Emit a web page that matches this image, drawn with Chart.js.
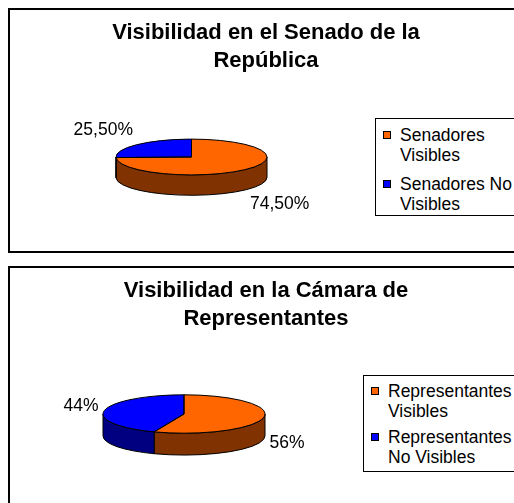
<!DOCTYPE html>
<html>
<head>
<meta charset="utf-8">
<script src="https://cdn.jsdelivr.net/npm/chart.js@4.4.0/dist/chart.umd.min.js"></script>
<style>
  body { margin: 0; background: #fff; overflow: hidden; font-family: "Liberation Sans", Arial, sans-serif; color: #000; }
  .panel { position: absolute; left: 8px; width: 530px; border: 2px solid #000; box-sizing: border-box; }
  #p1 { top: 8px; height: 245px; }
  #p2 { top: 266px; height: 260px; }
  .panel canvas { position: absolute; left: 0; top: 0; }
  .title { position: absolute; left: 0; top: 8px; width: 512px; text-align: center; font-weight: bold; font-size: 22px; line-height: 28px; }
  .legend { position: absolute; width: 200px; border: 1px solid #000; box-sizing: border-box; background: #fff; font-size: 17.5px; line-height: 20px; }
  .legend .item { position: relative; padding-left: 24px; }
  .legend .box { position: absolute; left: 7px; top: 6px; width: 8px; height: 8px; border: 1px solid #000; box-sizing: border-box; }
  #leg1 { left: 365px; top: 108px; height: 98px; padding-top: 6px; }
  #leg1 .item { width: 125px; }
  #leg1 .item + .item { margin-top: 9px; }
  #leg2 { left: 353px; top: 107px; height: 97px; padding-top: 5px; }
  #leg2 .item { width: 138px; }
  #leg2 .item + .item { margin-top: 6px; }
</style>
</head>
<body>
<div class="panel" id="p1">
  <canvas id="c1" width="512" height="241"></canvas>
  <div class="title" id="t1"></div>
  <div class="legend" id="leg1"></div>
</div>
<div class="panel" id="p2">
  <canvas id="c2" width="512" height="235"></canvas>
  <div class="title" id="t2"></div>
  <div class="legend" id="leg2"></div>
</div>
<script>
// data
const senadoTitle = ['Visibilidad en el Senado de la', 'República'];
const senadoLabels = ['Senadores Visibles', 'Senadores No Visibles'];
const senadoValues = [74.5, 25.5];

const camaraTitle = ['Visibilidad en la Cámara de', 'Representantes'];
const camaraLabels = ['Representantes Visibles', 'Representantes No Visibles'];
const camaraValues = [56, 44];

const sliceColors = ['#FF6600', '#0000FF'];
const sideColors = ['#803300', '#000080'];

// flat pie drawn as a tilted disc: side walls first, squashed top, outlines and labels last
const pie3d = {
  id: 'pie3d',
  beforeDatasetsDraw(chart, args, opts) {
    const ctx = chart.ctx;
    const arcs = chart.getDatasetMeta(0).data;
    const cx = arcs[0].x, cy = arcs[0].y, r = arcs[0].outerRadius;
    const ry = r * opts.tilt, d = r * opts.depth;
    ctx.save();
    ctx.lineWidth = 1;
    ctx.strokeStyle = '#000';
    arcs.forEach((arc, i) => {
      const a0 = Math.max(arc.startAngle, 0);
      const a1 = Math.min(arc.endAngle, Math.PI);
      if (a1 <= a0) return;
      ctx.beginPath();
      ctx.ellipse(cx, cy, r, ry, 0, a0, a1);
      ctx.ellipse(cx, cy + d, r, ry, 0, a1, a0, true);
      ctx.closePath();
      ctx.fillStyle = opts.sideColors[i];
      ctx.fill();
      ctx.stroke();
    });
    ctx.restore();
    ctx.save();
    ctx.translate(cx, cy);
    ctx.scale(1, opts.tilt);
    ctx.translate(-cx, -cy);
  },
  afterDatasetsDraw(chart, args, opts) {
    const ctx = chart.ctx;
    ctx.restore();
    const arcs = chart.getDatasetMeta(0).data;
    const values = chart.data.datasets[0].data;
    const cx = arcs[0].x, cy = arcs[0].y, r = arcs[0].outerRadius;
    const ry = r * opts.tilt, d = r * opts.depth;
    ctx.save();
    ctx.lineWidth = 1;
    ctx.strokeStyle = '#000';
    arcs.forEach(arc => {
      ctx.beginPath();
      ctx.moveTo(cx, cy);
      ctx.ellipse(cx, cy, r, ry, 0, arc.startAngle, arc.endAngle);
      ctx.closePath();
      ctx.stroke();
    });
    ctx.fillStyle = '#000';
    ctx.font = '17.5px "Liberation Sans", Arial, sans-serif';
    ctx.textBaseline = 'middle';
    arcs.forEach((arc, i) => {
      const mid = (arc.startAngle + arc.endAngle) / 2;
      const c = Math.cos(mid), s = Math.sin(mid);
      const x = cx + (r + 6) * c;
      const y = cy + (ry + 20) * s + (s > 0 ? d : 0);
      ctx.textAlign = c >= 0 ? 'left' : 'right';
      const txt = values[i].toFixed(opts.decimals).replace('.', ',') + '%';
      ctx.fillText(txt, x, y);
    });
    ctx.restore();
  }
};

function makeLegend(el, labels) {
  labels.forEach((lab, i) => {
    const item = document.createElement('div');
    item.className = 'item';
    const box = document.createElement('span');
    box.className = 'box';
    box.style.background = sliceColors[i];
    item.appendChild(box);
    item.appendChild(document.createTextNode(lab));
    el.appendChild(item);
  });
}

function makeChart(canvasId, labels, values, decimals, radius, padding) {
  return new Chart(document.getElementById(canvasId), {
    type: 'pie',
    data: {
      labels: labels,
      datasets: [{
        data: values,
        backgroundColor: sliceColors,
        borderWidth: 0,
        radius: radius,
        clip: false
      }]
    },
    options: {
      responsive: false,
      animation: false,
      events: [],
      layout: { padding: padding },
      plugins: {
        legend: { display: false },
        tooltip: { enabled: false },
        title: { display: false },
        pie3d: { tilt: 0.237, depth: 0.27, sideColors: sideColors, decimals: decimals }
      }
    },
    plugins: [pie3d]
  });
}

document.getElementById('t1').innerHTML = senadoTitle.join('<br>');
document.getElementById('t2').innerHTML = camaraTitle.join('<br>');
makeLegend(document.getElementById('leg1'), senadoLabels);
makeLegend(document.getElementById('leg2'), camaraLabels);

makeChart('c1', senadoLabels, senadoValues, 2, 75.5, { left: 20, right: 169, top: 70, bottom: 17 });
makeChart('c2', camaraLabels, camaraValues, 0, 81, { left: 20, right: 184, top: 70, bottom: 13 });
</script>
</body>
</html>
